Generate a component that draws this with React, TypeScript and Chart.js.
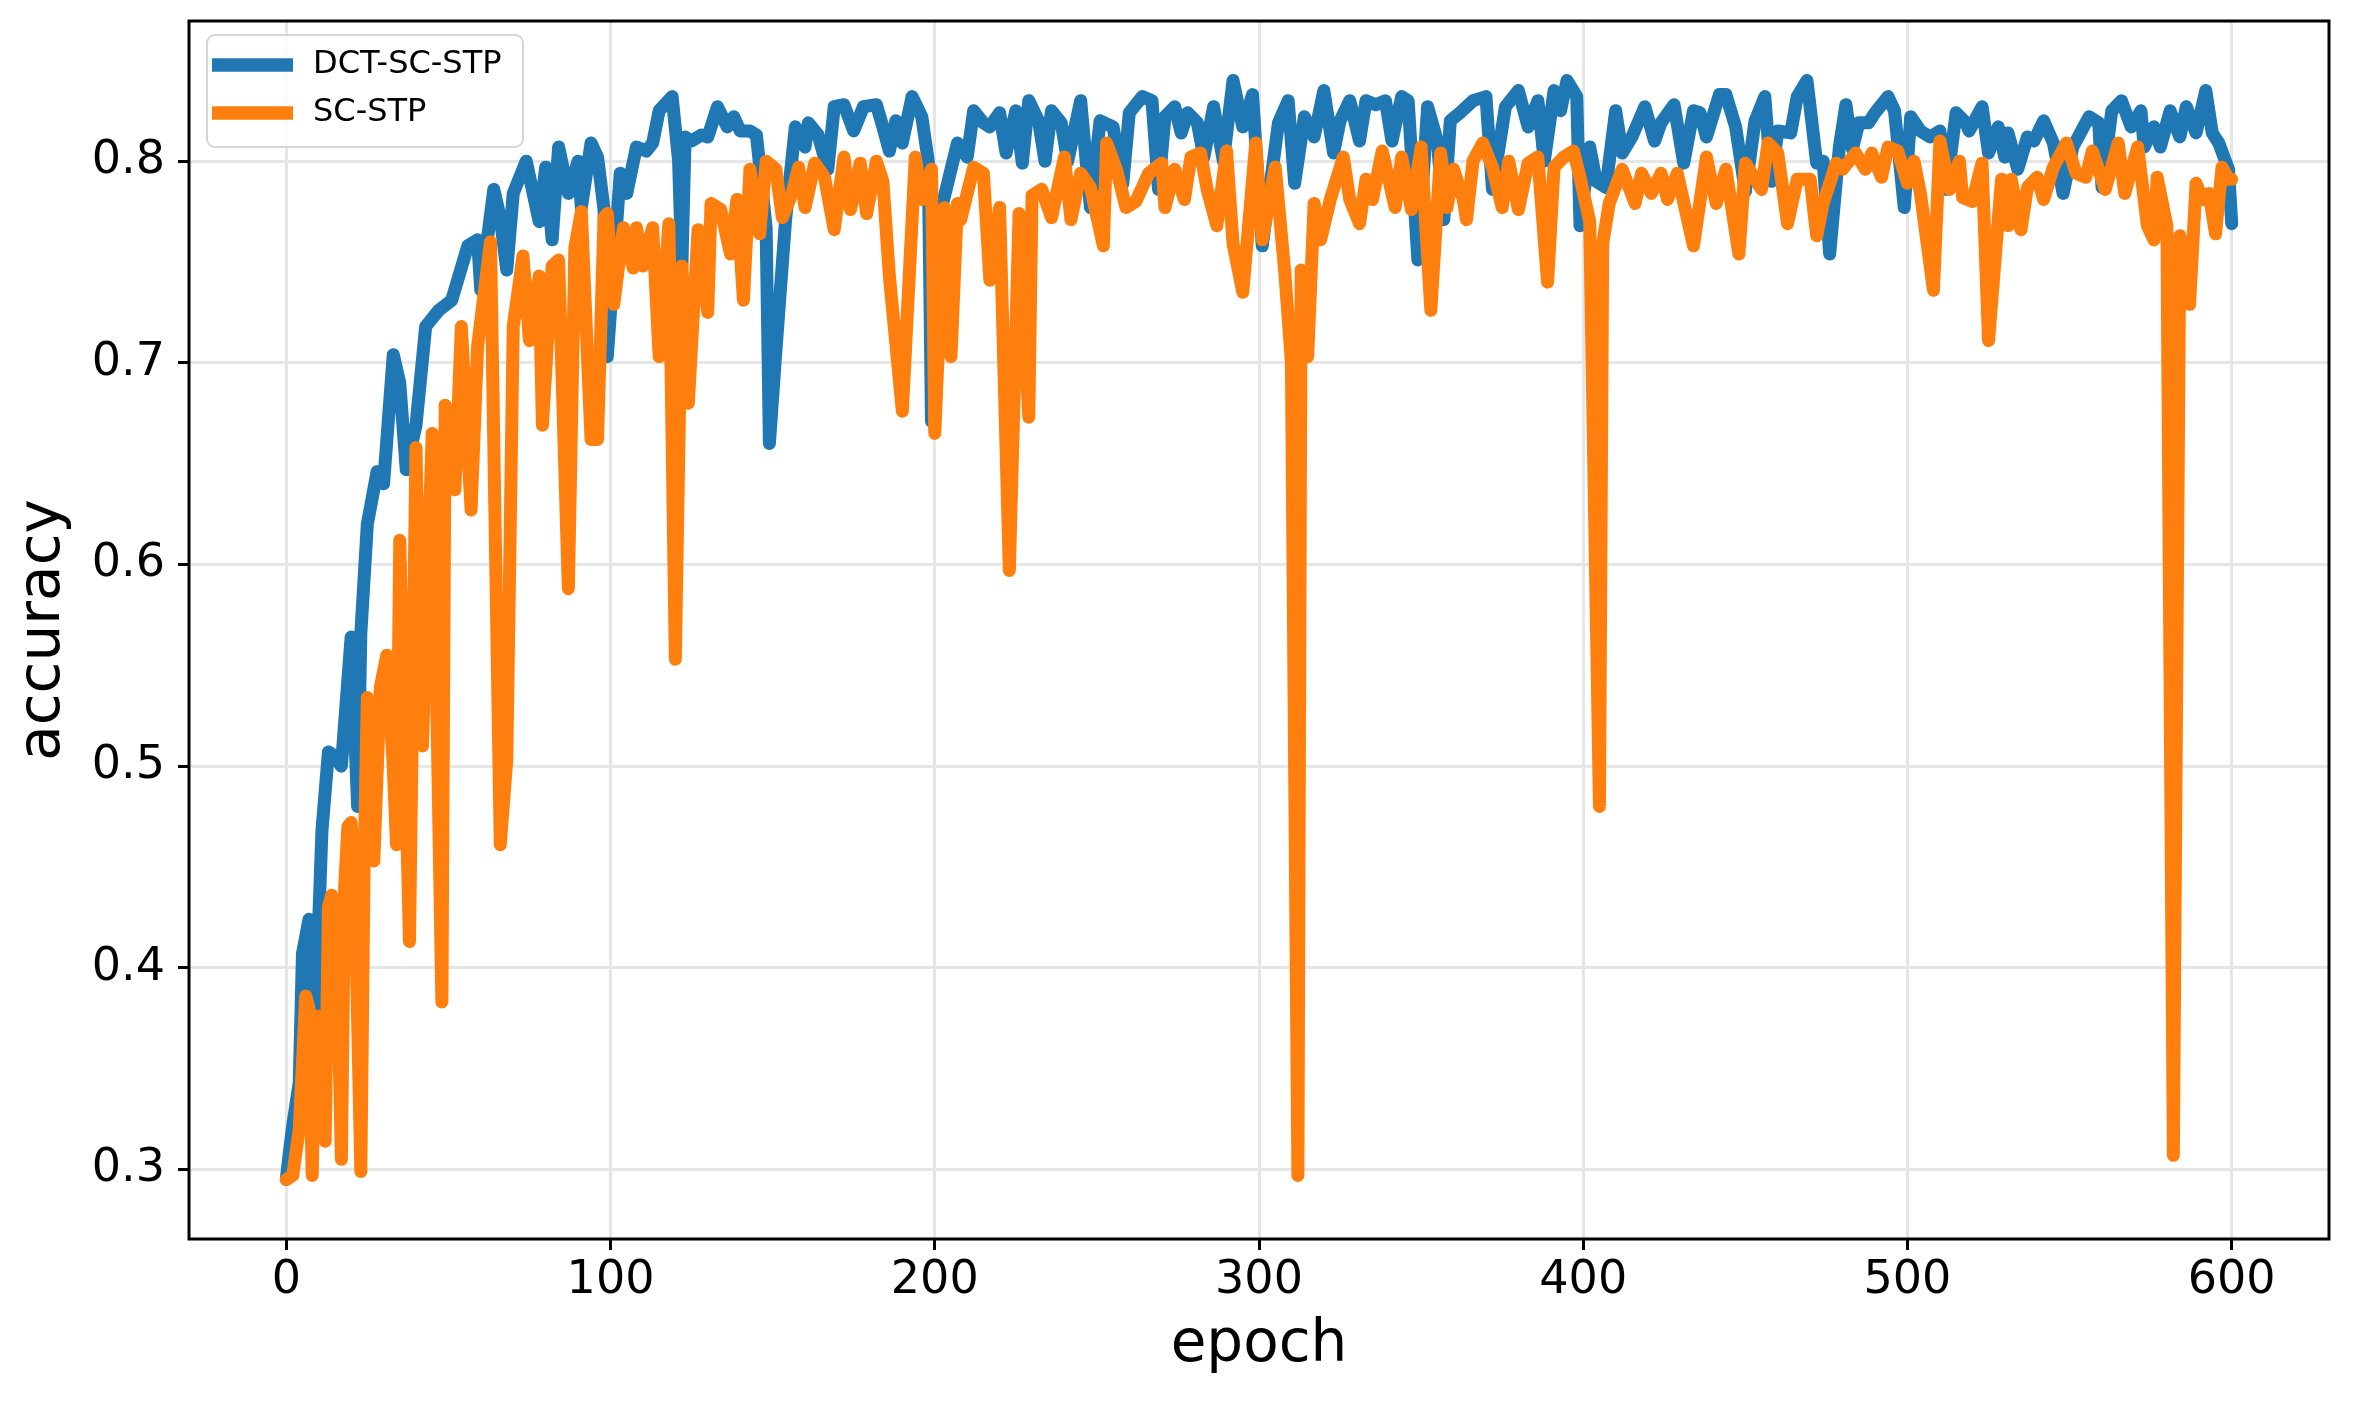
import { useEffect, useRef } from 'react';
import { Chart, registerables } from 'chart.js';

Chart.register(...registerables);

// DCT-SC-STP (blue): [epoch, accuracy]
const dctScStp: [number, number][] = [
  [0, 0.295], [1, 0.309], [2, 0.322], [4, 0.343], [5, 0.407], [7, 0.424], [9, 0.378], [11, 0.468], [13, 0.507],
  [15, 0.505], [17, 0.5], [20, 0.564], [22, 0.48], [23, 0.566], [25, 0.62], [28, 0.646], [30, 0.64], [33, 0.704],
  [35, 0.69], [37, 0.647], [40, 0.669], [43, 0.718], [47, 0.726], [51, 0.731], [56, 0.758], [59, 0.761], [60, 0.736],
  [64, 0.786], [66, 0.772], [68, 0.746], [70, 0.784], [74, 0.8], [78, 0.77], [80, 0.797], [82, 0.761], [84, 0.807],
  [87, 0.784], [90, 0.8], [91, 0.777], [94, 0.809], [96, 0.802], [98, 0.776], [99, 0.703], [103, 0.794], [105, 0.784],
  [108, 0.807], [111, 0.805], [113, 0.809], [115, 0.825], [119, 0.832], [121, 0.8], [122, 0.747], [123, 0.812],
  [125, 0.81], [128, 0.813], [130, 0.812], [133, 0.827], [136, 0.817], [138, 0.822], [140, 0.815], [143, 0.815],
  [145, 0.813], [148, 0.767], [149, 0.66], [151, 0.706], [154, 0.771], [157, 0.817], [160, 0.807], [161, 0.819],
  [164, 0.813], [167, 0.796], [169, 0.827], [172, 0.828], [175, 0.815], [178, 0.827], [182, 0.828], [184, 0.817],
  [186, 0.805], [188, 0.82], [190, 0.809], [193, 0.832], [196, 0.822], [198, 0.8], [199, 0.671], [202, 0.776],
  [207, 0.809], [210, 0.802], [212, 0.825], [215, 0.819], [217, 0.817], [220, 0.824], [222, 0.804], [225, 0.825],
  [227, 0.799], [229, 0.83], [232, 0.82], [234, 0.8], [236, 0.825], [239, 0.819], [241, 0.8], [245, 0.83],
  [248, 0.777], [251, 0.82], [255, 0.817], [258, 0.789], [260, 0.824], [264, 0.832], [267, 0.83], [269, 0.786],
  [271, 0.822], [274, 0.827], [276, 0.814], [278, 0.824], [281, 0.819], [283, 0.802], [286, 0.827], [289, 0.8],
  [292, 0.84], [295, 0.817], [298, 0.833], [301, 0.758], [306, 0.819], [309, 0.83], [311, 0.789], [314, 0.822],
  [317, 0.812], [320, 0.835], [323, 0.804], [325, 0.82], [328, 0.83], [331, 0.81], [333, 0.83], [336, 0.828],
  [339, 0.83], [341, 0.81], [344, 0.832], [346, 0.83], [349, 0.751], [352, 0.827], [355, 0.81], [357, 0.771],
  [359, 0.82], [362, 0.824], [366, 0.83], [370, 0.832], [372, 0.786], [376, 0.827], [380, 0.835], [383, 0.817],
  [386, 0.83], [388, 0.8], [391, 0.835], [393, 0.825], [395, 0.84], [398, 0.832], [399, 0.768], [402, 0.807],
  [404, 0.79], [407, 0.787], [410, 0.825], [412, 0.804], [415, 0.812], [419, 0.827], [422, 0.81], [424, 0.819],
  [428, 0.828], [431, 0.799], [434, 0.825], [436, 0.824], [438, 0.812], [442, 0.833], [444, 0.833], [447, 0.817],
  [450, 0.785], [453, 0.82], [456, 0.832], [458, 0.79], [460, 0.815], [464, 0.814], [466, 0.832], [469, 0.84],
  [472, 0.799], [474, 0.8], [476, 0.754], [479, 0.807], [481, 0.828], [483, 0.806], [485, 0.819], [488, 0.819],
  [490, 0.824], [494, 0.832], [496, 0.825], [499, 0.777], [501, 0.822], [504, 0.815], [507, 0.812], [510, 0.815],
  [512, 0.786], [515, 0.824], [518, 0.819], [519, 0.815], [523, 0.827], [525, 0.804], [528, 0.817], [530, 0.802],
  [531, 0.814], [534, 0.796], [537, 0.812], [539, 0.81], [542, 0.82], [545, 0.809], [548, 0.784], [551, 0.807],
  [556, 0.822], [559, 0.819], [560, 0.787], [563, 0.825], [566, 0.83], [569, 0.817], [572, 0.825], [573, 0.807],
  [576, 0.817], [578, 0.807], [581, 0.825], [584, 0.812], [586, 0.827], [589, 0.814], [592, 0.835], [594, 0.814],
  [596, 0.809], [599, 0.796], [600, 0.769],
];

// SC-STP (orange): [epoch, accuracy]
const scStp: [number, number][] = [
  [0, 0.295], [2, 0.297], [4, 0.32], [6, 0.386], [7, 0.38], [8, 0.297], [9, 0.376], [10, 0.376], [11, 0.34],
  [12, 0.314], [13, 0.43], [14, 0.436], [16, 0.38], [17, 0.305], [18, 0.44], [19, 0.47], [20, 0.472], [21, 0.45],
  [23, 0.299], [24, 0.45], [25, 0.534], [27, 0.453], [29, 0.539], [31, 0.555], [33, 0.5], [34, 0.461], [35, 0.612],
  [38, 0.413], [40, 0.658], [42, 0.51], [45, 0.665], [48, 0.383], [49, 0.679], [52, 0.637], [54, 0.718], [57, 0.627],
  [59, 0.708], [63, 0.76], [66, 0.461], [68, 0.503], [70, 0.718], [73, 0.753], [75, 0.711], [78, 0.743], [79, 0.669],
  [82, 0.748], [84, 0.751], [87, 0.588], [89, 0.757], [91, 0.775], [94, 0.662], [96, 0.662], [98, 0.772],
  [99, 0.774], [101, 0.729], [104, 0.767], [107, 0.747], [108, 0.767], [110, 0.748], [113, 0.767], [115, 0.703],
  [118, 0.769], [120, 0.553], [122, 0.748], [124, 0.68], [127, 0.766], [130, 0.725], [131, 0.779], [134, 0.776],
  [137, 0.754], [139, 0.781], [141, 0.731], [143, 0.796], [146, 0.764], [148, 0.8], [151, 0.796], [153, 0.772],
  [156, 0.784], [158, 0.797], [160, 0.777], [163, 0.799], [166, 0.792], [169, 0.766], [172, 0.802], [174, 0.776],
  [177, 0.799], [179, 0.774], [182, 0.8], [184, 0.79], [186, 0.743], [190, 0.676], [194, 0.802], [196, 0.781],
  [199, 0.796], [200, 0.665], [203, 0.777], [205, 0.703], [207, 0.779], [208, 0.771], [212, 0.797], [215, 0.794],
  [217, 0.741], [220, 0.777], [223, 0.597], [226, 0.774], [229, 0.673], [230, 0.783], [233, 0.786], [236, 0.772],
  [240, 0.802], [242, 0.771], [245, 0.794], [248, 0.787], [252, 0.758], [253, 0.809], [256, 0.796], [259, 0.777],
  [262, 0.78], [266, 0.794], [270, 0.799], [271, 0.777], [274, 0.796], [277, 0.781], [279, 0.802], [282, 0.804],
  [284, 0.786], [287, 0.768], [290, 0.805], [292, 0.759], [295, 0.735], [299, 0.809], [301, 0.761], [305, 0.797],
  [308, 0.744], [310, 0.7], [312, 0.297], [313, 0.746], [315, 0.703], [317, 0.779], [319, 0.761], [322, 0.781],
  [326, 0.802], [328, 0.781], [331, 0.769], [333, 0.791], [335, 0.781], [338, 0.805], [342, 0.777], [344, 0.802],
  [347, 0.776], [350, 0.807], [353, 0.726], [356, 0.804], [358, 0.777], [360, 0.796], [363, 0.781], [364, 0.771],
  [366, 0.8], [369, 0.809], [372, 0.797], [375, 0.777], [377, 0.8], [380, 0.776], [383, 0.799], [386, 0.802],
  [389, 0.74], [391, 0.797], [394, 0.802], [397, 0.805], [399, 0.792], [402, 0.77], [405, 0.48], [406, 0.759],
  [408, 0.779], [412, 0.796], [416, 0.779], [418, 0.794], [421, 0.784], [424, 0.794], [426, 0.781], [429, 0.794],
  [434, 0.758], [438, 0.802], [441, 0.779], [444, 0.796], [448, 0.754], [450, 0.799], [455, 0.786], [457, 0.809],
  [460, 0.804], [463, 0.769], [466, 0.791], [470, 0.791], [472, 0.763], [474, 0.779], [478, 0.799], [480, 0.796],
  [484, 0.804], [487, 0.796], [489, 0.804], [492, 0.792], [494, 0.807], [497, 0.805], [500, 0.789], [502, 0.8],
  [504, 0.784], [508, 0.736], [510, 0.81], [513, 0.786], [516, 0.8], [517, 0.782], [520, 0.78], [523, 0.799],
  [525, 0.711], [529, 0.791], [531, 0.768], [532, 0.791], [535, 0.766], [537, 0.787], [540, 0.792], [542, 0.781],
  [545, 0.797], [549, 0.809], [552, 0.794], [555, 0.792], [557, 0.805], [561, 0.786], [565, 0.809], [567, 0.784],
  [571, 0.807], [574, 0.768], [576, 0.761], [577, 0.792], [580, 0.768], [582, 0.307], [584, 0.763], [586, 0.744],
  [587, 0.729], [589, 0.789], [591, 0.781], [593, 0.784], [595, 0.764], [597, 0.797], [599, 0.791], [600, 0.791],
];

const xTickValues = [0, 100, 200, 300, 400, 500, 600];
const xTickLabels = ['0', '100', '200', '300', '400', '500', '600'];
const yTickValues = [0.3, 0.4, 0.5, 0.6, 0.7, 0.8];
const yTickLabels = ['0.3', '0.4', '0.5', '0.6', '0.7', '0.8'];

const seriesNames = ['DCT-SC-STP', 'SC-STP'];
const seriesColors = ['#1f77b4', '#ff7f0e'];

const FONT = '"DejaVu Sans", sans-serif';

// black box around the plot, like matplotlib spines
const framePlugin = {
  id: 'frame',
  afterDatasetsDraw(chart: Chart) {
    const { ctx, chartArea } = chart;
    ctx.save();
    ctx.strokeStyle = '#000';
    ctx.lineWidth = 3;
    ctx.strokeRect(chartArea.left, chartArea.top, chartArea.right - chartArea.left, chartArea.bottom - chartArea.top);
    ctx.restore();
  },
};

// legend inside the upper-left corner
const legendPlugin = {
  id: 'innerLegend',
  afterDraw(chart: Chart) {
    const { ctx, chartArea } = chart;
    const x = chartArea.left + 18;
    const y = chartArea.top + 14;
    const w = 316;
    const h = 112;
    ctx.save();
    ctx.beginPath();
    ctx.roundRect(x, y, w, h, 8);
    ctx.fillStyle = 'rgba(255,255,255,0.8)';
    ctx.fill();
    ctx.strokeStyle = '#d6d6d6';
    ctx.lineWidth = 2;
    ctx.stroke();
    ctx.font = `32px ${FONT}`;
    ctx.textBaseline = 'middle';
    ctx.textAlign = 'left';
    chart.data.datasets.forEach((ds, i) => {
      const cy = y + 30 + i * 48;
      ctx.strokeStyle = ds.borderColor as string;
      ctx.lineWidth = 13.5;
      ctx.lineCap = 'butt';
      ctx.beginPath();
      ctx.moveTo(x + 5, cy);
      ctx.lineTo(x + 86, cy);
      ctx.stroke();
      ctx.fillStyle = '#000';
      ctx.fillText(ds.label as string, x + 106, cy);
    });
    ctx.restore();
  },
};

const AccuracyChart = () => {
  const canvasRef = useRef<HTMLCanvasElement>(null);
  const chartRef = useRef<Chart | null>(null);

  useEffect(() => {
    if (!canvasRef.current) return;
    if (chartRef.current) chartRef.current.destroy();

    const toPoints = (rows: [number, number][]) => rows.map(([x, y]) => ({ x, y }));

    const lineStyle = {
      borderWidth: 13,
      pointRadius: 0,
      tension: 0,
      fill: false,
      borderCapStyle: 'round' as const,
      borderJoinStyle: 'round' as const,
    };

    chartRef.current = new Chart(canvasRef.current, {
      type: 'line',
      data: {
        datasets: [
          { ...lineStyle, label: seriesNames[0], data: toPoints(dctScStp), borderColor: seriesColors[0], backgroundColor: seriesColors[0], order: 1 },
          { ...lineStyle, label: seriesNames[1], data: toPoints(scStp), borderColor: seriesColors[1], backgroundColor: seriesColors[1], order: 0 },
        ],
      },
      options: {
        animation: false,
        responsive: true,
        maintainAspectRatio: false,
        devicePixelRatio: 1,
        layout: { padding: { top: 21, right: 26, left: 0, bottom: 0 } },
        plugins: {
          legend: { display: false },
          tooltip: { enabled: false },
        },
        scales: {
          x: {
            type: 'linear',
            min: -30,
            max: 630,
            afterBuildTicks: (scale) => {
              scale.ticks = xTickValues.map(v => ({ value: v }));
            },
            afterFit: (scale) => {
              scale.height = 164;
              scale.paddingLeft = 0;
              scale.paddingRight = 0;
            },
            grid: { color: '#e6e6e6', lineWidth: 3, tickColor: '#000', tickWidth: 3, tickLength: 11 },
            border: { display: false },
            ticks: {
              autoSkip: false,
              maxRotation: 0,
              padding: 3,
              color: '#000',
              font: { family: FONT, size: 46 },
              callback: (_v, i) => xTickLabels[i],
            },
            title: {
              display: true,
              text: 'epoch',
              color: '#000',
              font: { family: FONT, size: 58 },
              padding: { top: 0, bottom: 22 },
            },
          },
          y: {
            type: 'linear',
            min: 0.2655,
            max: 0.8695,
            afterBuildTicks: (scale) => {
              scale.ticks = yTickValues.map(v => ({ value: v }));
            },
            afterFit: (scale) => {
              scale.width = 189;
              scale.paddingTop = 0;
              scale.paddingBottom = 0;
            },
            grid: { color: '#e6e6e6', lineWidth: 3, tickColor: '#000', tickWidth: 3, tickLength: 11 },
            border: { display: false },
            ticks: {
              autoSkip: false,
              padding: 13,
              color: '#000',
              font: { family: FONT, size: 46 },
              callback: (_v, i) => yTickLabels[i],
            },
            title: {
              display: true,
              text: 'accuracy',
              color: '#000',
              font: { family: FONT, size: 58 },
              padding: { top: 9, bottom: 0 },
            },
          },
        },
      },
      plugins: [framePlugin, legendPlugin],
    });

    return () => {
      if (chartRef.current) {
        chartRef.current.destroy();
        chartRef.current = null;
      }
    };
  }, []);

  return <canvas ref={canvasRef} />;
};

export default function App() {
  return (
    <div style={{ position: 'fixed', top: 0, left: 0, width: 2355, height: 1403, background: '#fff' }}>
      <AccuracyChart />
    </div>
  );
}
